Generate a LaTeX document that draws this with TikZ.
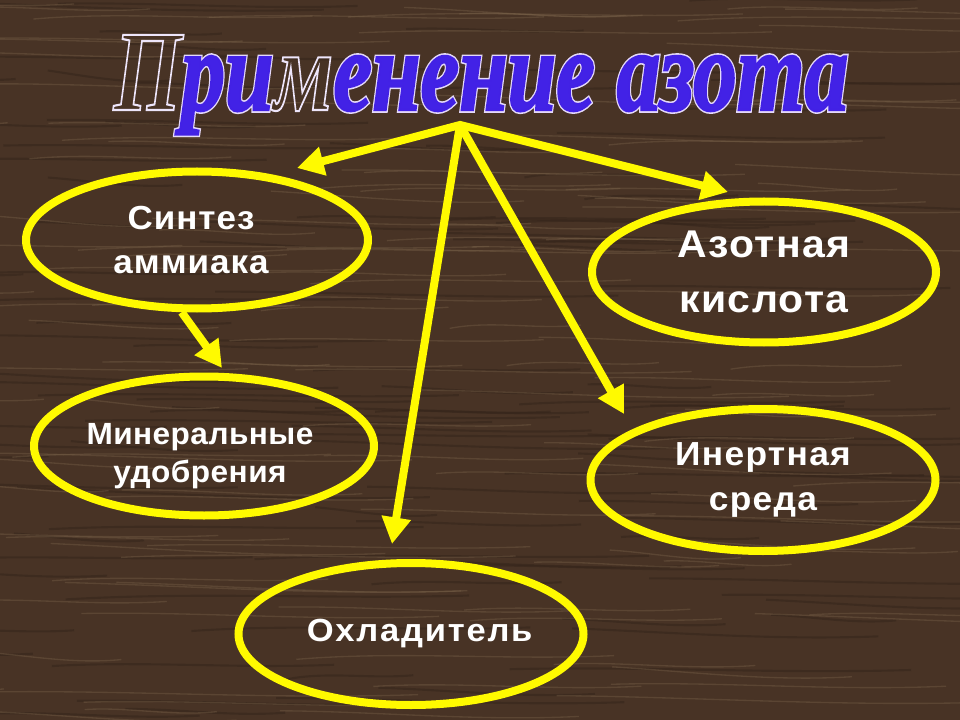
\documentclass[tikz,border=0pt]{standalone}
\usepackage{fontspec}
\usepackage{graphicx}
\setmainfont{Liberation Sans}
\newfontfamily\titlefont{Liberation Serif}
\usetikzlibrary{shapes.geometric,arrows.meta}
\definecolor{wood}{RGB}{72,51,37}
\definecolor{grain}{RGB}{128,104,78}
\definecolor{darkgrain}{RGB}{52,36,26}
\definecolor{yel}{RGB}{255,250,0}
\definecolor{ttl}{RGB}{66,34,230}
% halo layer
\newcommand\myhaout[1]{\special{pdf:literal direct 1 Tr 1.6 w 0.93 0.90 0.98 RG}#1\special{pdf:literal direct 0 Tr}}
\newcommand\myhafill[1]{\special{pdf:literal direct 2 Tr 4.2 w 0.90 0.85 0.98 RG}#1\special{pdf:literal direct 0 Tr}}
% top layer
\newcommand\mytinv[1]{\special{pdf:literal direct 3 Tr}#1\special{pdf:literal direct 0 Tr}}
\newcommand\mytfill[1]{\special{pdf:literal direct 2 Tr 1.8 w 0.26 0.13 0.90 RG}#1\special{pdf:literal direct 0 Tr}}
\newcommand\myttext[3]{\resizebox{551pt}{\height}{\titlefont\bfseries\itshape\fontsize{86}{86}\selectfont
   #1{П}\color{#3}#2{ри}#1{м}#2{енение азота}}}
\tikzset{
  ell/.style={ellipse, draw=yel, line width=6pt, inner sep=0pt, text=white, align=center},
  arr/.style={draw=yel, line width=6pt, -{Triangle[length=20pt,width=21pt]}},
  arrb/.style={draw=yel, line width=6pt, line join=miter, {Triangle[length=20pt,width=21pt]}-{Triangle[length=20pt,width=21pt]}},
  grainline/.style={draw=grain, line width=1pt, opacity=0.35},
  darkline/.style={draw=darkgrain, line width=1.6pt, opacity=0.5}
}
\begin{document}
\begin{tikzpicture}[x=0.75pt,y=-0.75pt]
\useasboundingbox (0,0) rectangle (960,720);
\fill[wood] (0,0) rectangle (960,720);
% wood grain
\pgfmathsetseed{11}
\foreach \i in {1,...,110}{
  \pgfmathsetmacro\gya{rnd*720}
  \pgfmathsetmacro\gxa{rnd*960-150}
  \pgfmathsetmacro\glen{120+rnd*320}
  \pgfmathsetmacro\gdy{rnd*14-4}
  \draw[darkline] (\gxa,\gya) .. controls (\gxa+\glen*0.33,\gya+\gdy-4) and (\gxa+\glen*0.66,\gya+\gdy+4) .. (\gxa+\glen,\gya+\gdy);
}
\foreach \i in {1,...,130}{
  \pgfmathsetmacro\gya{rnd*720}
  \pgfmathsetmacro\gxa{rnd*960-150}
  \pgfmathsetmacro\glen{120+rnd*320}
  \pgfmathsetmacro\gdy{rnd*14-4}
  \draw[grainline] (\gxa,\gya) .. controls (\gxa+\glen*0.33,\gya+\gdy-5) and (\gxa+\glen*0.66,\gya+\gdy+5) .. (\gxa+\glen,\gya+\gdy);
}
% title
\node[anchor=base, inner sep=0pt] (title) at (481,110) {\myttext{\myhaout}{\myhafill}{ttl}};
\node[anchor=base, inner sep=0pt] (titletop) at (481,110) {\myttext{\mytinv}{\mytfill}{ttl}};
% ellipses
\node[ell, minimum width=342*0.75pt, minimum height=137*0.75pt,
      font=\fontsize{25}{33}\selectfont\bfseries\addfontfeature{FakeStretch=1.05,LetterSpace=3}] (e1) at (197,240)
      {\hspace*{-9pt}Синтез\\\hspace*{-9pt}аммиака};
\node[ell, minimum width=340*0.75pt, minimum height=139*0.75pt,
      font=\fontsize{23}{28.5}\selectfont\bfseries\addfontfeature{FakeStretch=1.03,LetterSpace=1.5}] (e2) at (204,446)
      {\rule{0pt}{31pt}\hspace*{-6pt}Минеральные\\\hspace*{-6pt}удобрения};
\node[ell, minimum width=344*0.75pt, minimum height=141*0.75pt,
      font=\fontsize{29}{41}\selectfont\bfseries\addfontfeature{FakeStretch=1.06,LetterSpace=3.5}] (e3) at (764,272) {Азотная\\кислота};
\node[ell, minimum width=345*0.75pt, minimum height=142*0.75pt,
      font=\fontsize{25}{34}\selectfont\bfseries\addfontfeature{FakeStretch=1.06,LetterSpace=4}] (e4) at (763,480) {Инертная\\среда};
\node[ell, minimum width=345*0.75pt, minimum height=142*0.75pt,
      font=\fontsize{24}{30}\selectfont\bfseries\addfontfeature{FakeStretch=1.08,LetterSpace=5.5}] (e5) at (411,634)
      {\hspace*{13pt}Охладитель};
% connectors
\coordinate (apex) at (460,125);
\coordinate (t1) at (297,168);
\coordinate (t3) at (728,192);
\coordinate (t4) at (624,414);
\coordinate (t5) at (392,544);
\coordinate (t2) at (222,368);
\draw[arr, shorten <=3pt] (apex) -- (t4);
\draw[arr, shorten <=3pt] (apex) -- (t5);
\draw[arrb] (t1) -- (apex) -- (t3);
\draw[arr] (e1.258) -- (t2);
\end{tikzpicture}
\end{document}
